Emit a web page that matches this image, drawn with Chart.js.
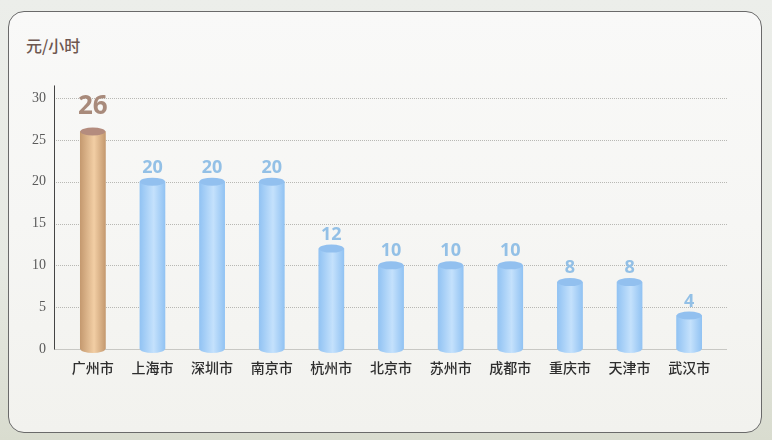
<!DOCTYPE html>
<html lang="zh">
<head>
  <meta charset="UTF-8">
  <title>元/小时</title>
  <script src="https://cdn.jsdelivr.net/npm/chart.js"></script>
  <style>
    html, body {
      margin: 0;
      padding: 0;
      width: 772px;
      height: 440px;
      overflow: hidden;
      background: linear-gradient(180deg, #eceeea 0%, #e6e9e2 60%, #d9dccf 100%);
    }
    .card {
      position: absolute;
      left: 8px;
      top: 11px;
      width: 752px;
      height: 420px;
      border: 1px solid #6a6a6a;
      border-radius: 16px;
      background: linear-gradient(180deg, #f9f9f8 0%, #f6f6f4 50%, #f2f2ee 100%);
    }
    .unit {
      position: absolute;
      left: 26px;
      top: 33px;
      font-family: "Noto Sans CJK SC", sans-serif;
      font-size: 16px;
      font-weight: 500;
      color: #6e5750;
    }
    #chart {
      position: absolute;
      left: 0;
      top: 0;
    }
  </style>
</head>
<body>
  <div class="card"></div>
  <div class="unit">元/小时</div>
  <canvas id="chart" width="772" height="440"></canvas>

  <script>
    // data
    const cities = ["广州市", "上海市", "深圳市", "南京市", "杭州市", "北京市", "苏州市", "成都市", "重庆市", "天津市", "武汉市"];
    const wages = [26, 20, 20, 20, 12, 10, 10, 10, 8, 8, 4];
    const yTicks = [0, 5, 10, 15, 20, 25, 30];

    const gold = { dark: "#c59a70", light: "#f2cea4", top: "#b48c7e", label: "#a88a7b" };
    const blue = { dark: "#92c3f3", light: "#c4e1fc", top: "#92c0ef", label: "#93c0e6" };

    function palette(i) {
      return i === 0 ? gold : blue;
    }

    // grid lines, axis line, cylinder shading and value labels
    const cylinderPlugin = {
      id: "cylinder",
      beforeDatasetsDraw(chart) {
        const ctx = chart.ctx;
        const y = chart.scales.y;
        ctx.save();
        ctx.strokeStyle = "#b8b8b4";
        ctx.lineWidth = 1;
        ctx.setLineDash([1, 1]);
        yTicks.forEach(v => {
          if (v === 0) return;
          const py = Math.round(y.getPixelForValue(v)) + 0.5;
          ctx.beginPath();
          ctx.moveTo(54, py);
          ctx.lineTo(727, py);
          ctx.stroke();
        });
        ctx.setLineDash([]);
        const p0 = Math.round(y.getPixelForValue(0)) + 0.5;
        ctx.strokeStyle = "#c8c8c4";
        ctx.beginPath();
        ctx.moveTo(54, p0);
        ctx.lineTo(727, p0);
        ctx.stroke();
        ctx.strokeStyle = "#444";
        ctx.beginPath();
        ctx.moveTo(54.5, y.getPixelForValue(31.5));
        ctx.lineTo(54.5, p0);
        ctx.stroke();
        ctx.restore();
      },
      afterDatasetsDraw(chart) {
        const ctx = chart.ctx;
        const meta = chart.getDatasetMeta(0);
        ctx.save();
        meta.data.forEach((bar, i) => {
          const c = palette(i);
          const left = bar.x - bar.width / 2;
          const right = bar.x + bar.width / 2;
          const ry = 4;
          const g = ctx.createLinearGradient(left, 0, right, 0);
          g.addColorStop(0, c.dark);
          g.addColorStop(0.55, c.light);
          g.addColorStop(1, c.dark);
          // body
          ctx.fillStyle = g;
          ctx.fillRect(left, bar.y, bar.width, bar.base - bar.y);
          // rounded bottom
          ctx.beginPath();
          ctx.ellipse(bar.x, bar.base, bar.width / 2, ry, 0, 0, Math.PI);
          ctx.fill();
          // top cap
          ctx.beginPath();
          ctx.ellipse(bar.x, bar.y, bar.width / 2, ry, 0, 0, Math.PI * 2);
          ctx.fillStyle = c.top;
          ctx.fill();
          // value label
          ctx.fillStyle = c.label;
          ctx.textAlign = "center";
          ctx.textBaseline = "alphabetic";
          if (i === 0) {
            ctx.font = "bold 26px 'Open Sans', sans-serif";
            ctx.fillText(wages[i], bar.x, bar.y - 17);
          } else {
            ctx.font = "bold 18px 'Open Sans', sans-serif";
            ctx.fillText(wages[i], bar.x, bar.y - 9);
          }
        });
        ctx.restore();
      }
    };

    new Chart(document.getElementById("chart"), {
      type: "bar",
      data: {
        labels: cities,
        datasets: [{
          label: "元/小时",
          data: wages,
          backgroundColor: wages.map((v, i) => palette(i).dark),
          borderWidth: 0,
          barThickness: 25
        }]
      },
      options: {
        responsive: false,
        animation: false,
        layout: {
          padding: { top: 98, right: 53, bottom: 0, left: 0 }
        },
        plugins: {
          legend: { display: false },
          tooltip: { enabled: false }
        },
        scales: {
          x: {
            grid: { display: false, drawTicks: false },
            border: { display: false },
            ticks: {
              color: "#2e2e2e",
              padding: 10,
              font: { family: "'Noto Sans CJK SC', sans-serif", size: 14, weight: "500" }
            },
            afterFit(scale) { scale.height = 91; }
          },
          y: {
            min: 0,
            max: 30,
            grid: { display: false, drawTicks: false },
            border: { display: false },
            ticks: {
              stepSize: 5,
              padding: 17,
              color: "#5a5a5a",
              font: { family: "'Liberation Serif', serif", size: 14 }
            },
            afterFit(scale) { scale.width = 63; }
          }
        }
      },
      plugins: [cylinderPlugin]
    });
  </script>
</body>
</html>
